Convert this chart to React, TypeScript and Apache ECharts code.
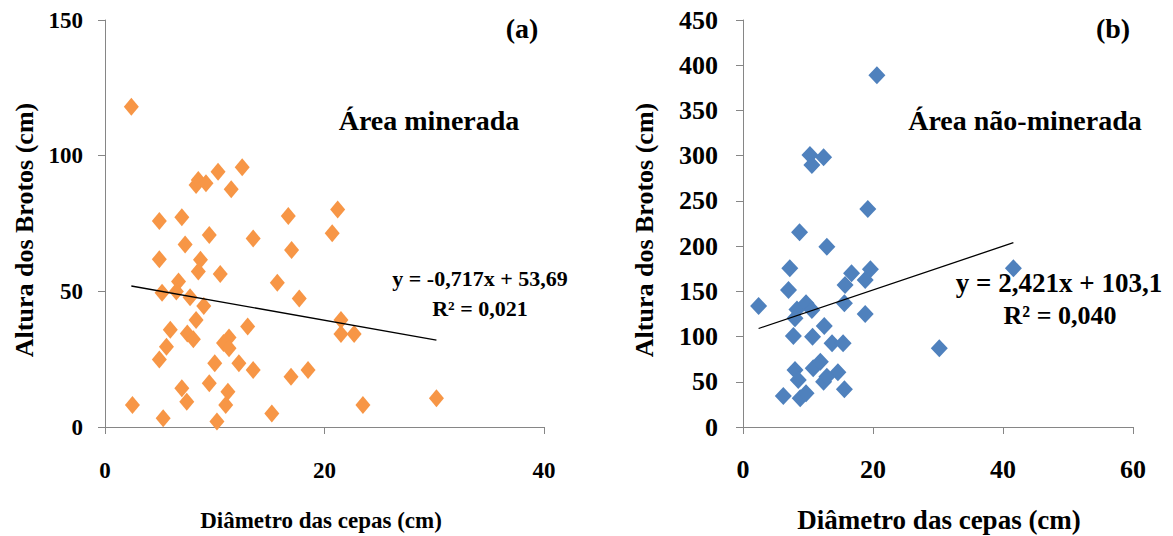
import React, { useEffect, useRef } from "react";
import * as echarts from "echarts";

// Panel (a): Área minerada
const diamA = [2.4, 8.3, 8.5, 9.2, 10.3, 12.5, 11.5, 4.95, 7.0, 16.7, 21.2, 9.5, 13.5, 20.7, 7.3, 17.0, 4.95, 8.7, 8.5, 10.5, 6.7, 15.7, 5.2, 6.5, 7.75, 17.7, 9.0, 8.3, 21.5, 5.95, 13.0, 7.5, 8.05, 21.5, 22.7, 11.3, 10.8, 11.3, 5.6, 4.95, 10.0, 12.2, 13.5, 18.5, 16.95, 9.5, 7.0, 11.2, 7.45, 11.0, 2.5, 23.5, 30.2, 5.3, 10.2, 15.2];
const heightA = [118, 89.2, 91, 89.8, 94.1, 95.7, 87.6, 75.9, 77.3, 77.8, 80.2, 70.8, 69.5, 71.4, 67.3, 65.2, 61.8, 61.6, 57.3, 56.4, 53.6, 53.2, 49.5, 49.9, 47.8, 47.4, 44.6, 39.4, 39.4, 35.8, 37, 34.5, 32.3, 34.3, 34.3, 33, 31, 29, 29.6, 24.9, 23.5, 23.5, 21, 21, 18.5, 16.1, 14.3, 13, 9.3, 8.1, 8.1, 8.1, 10.6, 3.2, 2, 5];

// Panel (b): Área não-minerada
const diamB = [20.6, 10.3, 10.6, 12.4, 19.2, 8.7, 12.9, 7.2, 7.0, 2.4, 8.3, 9.7, 10.6, 8.0, 16.7, 15.7, 19.6, 18.8, 15.6, 18.8, 12.5, 7.75, 10.7, 13.7, 15.4, 30.2, 8.0, 10.8, 11.9, 8.5, 12.4, 14.6, 12.9, 6.2, 8.8, 9.7, 15.6, 41.6];
const heightB = [389, 300.7, 289.7, 298.2, 241, 215.3, 199.4, 175.5, 151.5, 133.8, 130, 136.8, 129.4, 120.2, 170, 157, 174.4, 162.5, 136.8, 125, 111.7, 100.6, 99.8, 92.5, 92.5, 87, 63, 64.9, 72.2, 52, 50.1, 60.5, 55.6, 34.3, 31.7, 37.3, 41.7, 175.5];

// Trendline coefficients (from the chart's equations)
const slopeA = -0.717;
const interceptA = 53.69;
const slopeB = 2.421;
const interceptB = 103.1;

const xTicksA = [0, 20, 40];
const yTicksA = [0, 50, 100, 150];
const xTicksB = [0, 20, 40, 60];
const yTicksB = [0, 50, 100, 150, 200, 250, 300, 350, 400, 450];

const FONT = "'Liberation Serif', 'Times New Roman', 'DejaVu Serif', serif";

function trend(xs: number[], a: number, b: number) {
  const lo = Math.min(...xs);
  const hi = Math.max(...xs);
  return [
    [lo, a * lo + b],
    [hi, a * hi + b],
  ];
}

export default function App() {
  const ref = useRef<HTMLDivElement>(null);
  useEffect(() => {
    if (!ref.current) return;
    const chart = echarts.init(ref.current, undefined, { renderer: "svg" });
    const axisLine = { show: true, lineStyle: { color: "#868686", width: 1 } };
    const axisTick = { show: true, inside: false, length: 7, lineStyle: { color: "#868686" } };
    const label = (size: number, margin: number) => ({
      fontFamily: FONT,
      fontWeight: "bold" as const,
      fontSize: size,
      color: "#000",
      margin,
    });
    const txt = (text: string, x: number, y: number, size: number, extra: any = {}) => ({
      type: "text",
      x,
      y,
      ...extra,
      style: {
        text,
        fontFamily: FONT,
        fontWeight: "bold",
        fontSize: size,
        fill: "#000",
        textAlign: "center",
        textVerticalAlign: "middle",
      },
    });
    chart.setOption({
      animation: false,
      backgroundColor: "#fff",
      grid: [
        { left: 105, top: 20, width: 439, height: 407 },
        { left: 743, top: 20, width: 390, height: 407 },
      ],
      xAxis: [
        {
          gridIndex: 0,
          type: "value",
          min: xTicksA[0],
          max: xTicksA[xTicksA.length - 1],
          interval: 20,
          splitLine: { show: false },
          axisLine,
          axisTick,
          axisLabel: label(23, 32),
        },
        {
          gridIndex: 1,
          type: "value",
          min: xTicksB[0],
          max: xTicksB[xTicksB.length - 1],
          interval: 20,
          splitLine: { show: false },
          axisLine,
          axisTick,
          axisLabel: label(26, 29),
        },
      ],
      yAxis: [
        {
          gridIndex: 0,
          type: "value",
          min: yTicksA[0],
          max: yTicksA[yTicksA.length - 1],
          interval: 50,
          splitLine: { show: false },
          axisLine,
          axisTick,
          axisLabel: label(23, 22),
        },
        {
          gridIndex: 1,
          type: "value",
          min: yTicksB[0],
          max: yTicksB[yTicksB.length - 1],
          interval: 50,
          splitLine: { show: false },
          axisLine,
          axisTick,
          axisLabel: label(26, 25),
        },
      ],
      series: [
        {
          type: "scatter",
          xAxisIndex: 0,
          yAxisIndex: 0,
          symbol: "diamond",
          symbolSize: [15, 18],
          itemStyle: { color: "#F79646", opacity: 1 },
          data: diamA.map((d, i) => [d, heightA[i]]),
        },
        {
          type: "line",
          xAxisIndex: 0,
          yAxisIndex: 0,
          symbol: "none",
          lineStyle: { color: "#000", width: 1.3 },
          data: trend(diamA, slopeA, interceptA),
          z: 3,
        },
        {
          type: "scatter",
          xAxisIndex: 1,
          yAxisIndex: 1,
          symbol: "diamond",
          symbolSize: [17, 18],
          itemStyle: { color: "#4F81BD", opacity: 1 },
          data: diamB.map((d, i) => [d, heightB[i]]),
        },
        {
          type: "line",
          xAxisIndex: 1,
          yAxisIndex: 1,
          symbol: "none",
          lineStyle: { color: "#000", width: 1.3 },
          data: trend(diamB, slopeB, interceptB),
          z: 3,
        },
      ],
      graphic: [
        txt("(a)", 522, 28, 28),
        txt("(b)", 1113, 28, 28),
        txt("Área minerada", 429, 120, 28),
        txt("Área não-minerada", 1025, 120, 28),
        txt("y = -0,717x + 53,69", 480, 278, 22),
        txt("R² = 0,021", 480, 308, 22),
        txt("y = 2,421x + 103,1", 1059, 283, 27),
        txt("R² = 0,040", 1060, 315, 26),
        txt("Diâmetro das cepas (cm)", 321, 520, 23),
        txt("Diâmetro das cepas (cm)", 939, 520, 27),
        txt("Altura dos Brotos (cm)", 24, 230, 26, { rotation: Math.PI / 2 }),
        txt("Altura dos Brotos (cm)", 644, 230, 26, { rotation: Math.PI / 2 }),
      ],
    });
    return () => chart.dispose();
  }, []);
  return (
    <div
      ref={ref}
      style={{ position: "absolute", left: 0, top: 0, width: 1173, height: 536 }}
    />
  );
}
